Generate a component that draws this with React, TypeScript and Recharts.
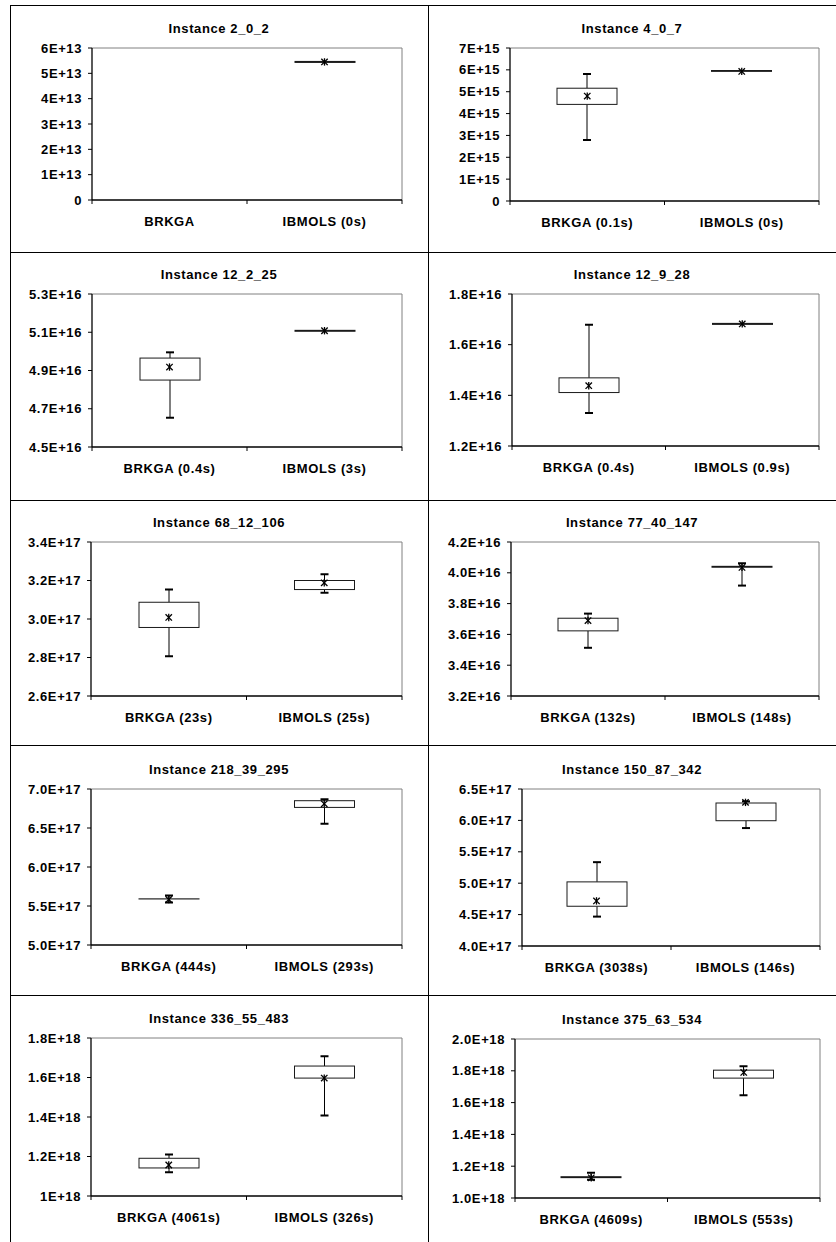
import React from 'react';
import { ComposedChart, Bar, Scatter, XAxis, YAxis, CartesianGrid } from 'recharts';

const titles = [
    'Instance 2_0_2', 'Instance 4_0_7', 'Instance 12_2_25', 'Instance 12_9_28', 'Instance 68_12_106',
    'Instance 77_40_147', 'Instance 218_39_295', 'Instance 150_87_342', 'Instance 336_55_483', 'Instance 375_63_534',
];

const brkgaLabels = ['BRKGA', 'BRKGA (0.1s)', 'BRKGA (0.4s)', 'BRKGA (0.4s)', 'BRKGA (23s)', 'BRKGA (132s)', 'BRKGA (444s)', 'BRKGA (3038s)', 'BRKGA (4061s)', 'BRKGA (4609s)'];
const ibmolsLabels = ['IBMOLS (0s)', 'IBMOLS (0s)', 'IBMOLS (3s)', 'IBMOLS (0.9s)', 'IBMOLS (25s)', 'IBMOLS (148s)', 'IBMOLS (293s)', 'IBMOLS (146s)', 'IBMOLS (326s)', 'IBMOLS (553s)'];

// y tick labels as printed (values are parsed from them)
const yTickLabels = [
    ['0', '1E+13', '2E+13', '3E+13', '4E+13', '5E+13', '6E+13'],
    ['0', '1E+15', '2E+15', '3E+15', '4E+15', '5E+15', '6E+15', '7E+15'],
    ['4.5E+16', '4.7E+16', '4.9E+16', '5.1E+16', '5.3E+16'],
    ['1.2E+16', '1.4E+16', '1.6E+16', '1.8E+16'],
    ['2.6E+17', '2.8E+17', '3.0E+17', '3.2E+17', '3.4E+17'],
    ['3.2E+16', '3.4E+16', '3.6E+16', '3.8E+16', '4.0E+16', '4.2E+16'],
    ['5.0E+17', '5.5E+17', '6.0E+17', '6.5E+17', '7.0E+17'],
    ['4.0E+17', '4.5E+17', '5.0E+17', '5.5E+17', '6.0E+17', '6.5E+17'],
    ['1E+18', '1.2E+18', '1.4E+18', '1.6E+18', '1.8E+18'],
    ['1.0E+18', '1.2E+18', '1.4E+18', '1.6E+18', '1.8E+18', '2.0E+18'],
];

// BRKGA boxes (first instance has no BRKGA result)
const brkgaMin = [null, 2.79e15, 4.653e16, 1.33e16, 2.807e17, 3.513e16, 5.545e17, 4.468e17, 1.12e18, 1.114e18];
const brkgaQ1 = [null, 4.42e15, 4.85e16, 1.411e16, 2.956e17, 3.623e16, 5.59e17, 4.633e17, 1.142e18, 1.128e18];
const brkgaQ3 = [null, 5.16e15, 4.965e16, 1.469e16, 3.087e17, 3.705e16, 5.592e17, 5.021e17, 1.191e18, 1.134e18];
const brkgaMax = [null, 5.81e15, 4.995e16, 1.679e16, 3.153e17, 3.735e16, 5.635e17, 5.335e17, 1.21e18, 1.159e18];
const brkgaMark = [null, 4.8e15, 4.918e16, 1.438e16, 3.008e17, 3.69e16, 5.583e17, 4.718e17, 1.157e18, 1.127e18];

// IBMOLS boxes
const ibmolsMin = [5.43e13, 5.93e15, 5.105e16, 1.68e16, 3.137e17, 3.917e16, 6.555e17, 5.878e17, 1.408e18, 1.647e18];
const ibmolsQ1 = [5.43e13, 5.93e15, 5.105e16, 1.68e16, 3.153e17, 4.036e16, 6.764e17, 5.995e17, 1.597e18, 1.754e18];
const ibmolsQ3 = [5.47e13, 5.97e15, 5.11e16, 1.684e16, 3.2e17, 4.042e16, 6.85e17, 6.277e17, 1.658e18, 1.804e18];
const ibmolsMax = [5.47e13, 5.97e15, 5.11e16, 1.684e16, 3.232e17, 4.062e16, 6.867e17, 6.303e17, 1.707e18, 1.829e18];
const ibmolsMark = [5.45e13, 5.93e15, 5.108e16, 1.682e16, 3.188e17, 4.035e16, 6.81e17, 6.287e17, 1.597e18, 1.79e18];

// layout: cells of the 2x5 grid and plot area inside each cell
const cellX = [10, 428];
const cellY = [5, 252, 500, 745, 995];
const cellW = [418, 408];
const plotGeom = [
    { l: 82, r: 392, t: 43, h: 152 }, { l: 82, r: 391, t: 43, h: 153 },
    { l: 82, r: 392, t: 42, h: 153 }, { l: 84, r: 391, t: 42, h: 152 },
    { l: 81, r: 392, t: 42, h: 154 }, { l: 83, r: 391, t: 42, h: 154 },
    { l: 81, r: 392, t: 44, h: 156 }, { l: 94, r: 392, t: 44, h: 157 },
    { l: 81, r: 392, t: 43, h: 158 }, { l: 87, r: 392, t: 44, h: 159 },
];

const FONT = '"Liberation Sans", Arial, sans-serif';
const FONT_SIZE = 13;
const LETTER_SP = 0.6;

const BoxShape = (props: any) => {
    const { x, y, width, height, payload } = props;
    if (!payload || payload.range == null || !isFinite(y)) return <g />;
    const [lo, hi] = payload.range;
    const toPx = (v: number) => (hi === lo ? y : y + ((hi - v) / (hi - lo)) * height);
    const cx = x + width / 2;
    const yMax = toPx(hi);
    const yMin = toPx(lo);
    const yQ3 = toPx(payload.q3);
    const yQ1 = toPx(payload.q1);
    return (
        <g>
            {hi > payload.q3 && <line x1={cx} x2={cx} y1={yMax} y2={yQ3} stroke="#000" />}
            {lo < payload.q1 && <line x1={cx} x2={cx} y1={yQ1} y2={yMin} stroke="#000" />}
            {hi > payload.q3 && <line x1={cx - 4} x2={cx + 4} y1={yMax} y2={yMax} stroke="#000" strokeWidth={2} />}
            {lo < payload.q1 && <line x1={cx - 4} x2={cx + 4} y1={yMin} y2={yMin} stroke="#000" strokeWidth={2} />}
            <rect x={x} y={yQ3} width={width} height={Math.max(yQ1 - yQ3, 0)} fill="#fff" stroke="#1a1a1a" strokeWidth={1} />
        </g>
    );
};

const StarMark = (props: any) => {
    const { cx, cy, payload } = props;
    if (!payload || payload.mark == null || !isFinite(cy)) return <g />;
    const s = 3.2;
    return (
        <g stroke="#000" strokeWidth={1.3}>
            <line x1={cx - s} y1={cy - s} x2={cx + s} y2={cy + s} />
            <line x1={cx - s} y1={cy + s} x2={cx + s} y2={cy - s} />
            <line x1={cx} y1={cy - s - 0.5} x2={cx} y2={cy + s + 0.5} />
        </g>
    );
};

const makeXTick = (band: number) => (props: any) => {
    const { x, y, payload, index } = props;
    return (
        <g>
            <line x1={x - band / 2} x2={x - band / 2} y1={y} y2={y + 4} stroke="#000" />
            {index === 1 && <line x1={x + band / 2} x2={x + band / 2} y1={y} y2={y + 4} stroke="#000" />}
            <text x={x} y={y + 21} dy="0.35em" textAnchor="middle" fill="#000" fontSize={FONT_SIZE} fontWeight="bold" fontFamily={FONT} letterSpacing={LETTER_SP}>
                {payload.value}
            </text>
        </g>
    );
};

const Panel: React.FC<{ i: number }> = ({ i }) => {
    const col = i % 2;
    const row = Math.floor(i / 2);
    const g = plotGeom[i];
    const w = cellW[col];
    const labels = yTickLabels[i];
    const ticks = labels.map(Number);
    const domain = [ticks[0], ticks[ticks.length - 1]];
    const band = (g.r - g.l) / 2;

    const data = [
        {
            name: brkgaLabels[i],
            range: brkgaMin[i] == null ? null : [brkgaMin[i], brkgaMax[i]],
            q1: brkgaQ1[i], q3: brkgaQ3[i], mark: brkgaMark[i],
        },
        {
            name: ibmolsLabels[i],
            range: [ibmolsMin[i], ibmolsMax[i]],
            q1: ibmolsQ1[i], q3: ibmolsQ3[i], mark: ibmolsMark[i],
        },
    ];

    return (
        <div style={{ position: 'absolute', left: cellX[col], top: cellY[row], width: w }}>
            <div style={{ position: 'absolute', left: 0, top: g.t - 27, width: w, textAlign: 'center', fontSize: FONT_SIZE, letterSpacing: LETTER_SP, lineHeight: '16px', fontWeight: 'bold', fontFamily: FONT }}>
                {titles[i]}
            </div>
            <ComposedChart width={w} height={g.t + g.h + 40} data={data} margin={{ top: g.t, right: w - g.r, left: 0, bottom: 0 }}>
                {/* gray frame on top and right of the plot area */}
                <CartesianGrid
                    stroke="#808080"
                    horizontalCoordinatesGenerator={({ offset }: any) => [offset.top]}
                    verticalCoordinatesGenerator={({ offset }: any) => [offset.left + offset.width]}
                />
                <XAxis dataKey="name" height={40} axisLine={{ stroke: '#000', strokeWidth: 1.3 }} tickLine={false} tickSize={0} tickMargin={0} interval={0} tick={makeXTick(band)} />
                <YAxis
                    domain={domain}
                    ticks={ticks}
                    interval={0}
                    width={g.l}
                    allowDataOverflow
                    tickFormatter={(v: number, idx: number) => labels[idx] ?? String(v)}
                    axisLine={{ stroke: '#000', strokeWidth: 1.3 }}
                    tickLine={{ stroke: '#000' }}
                    tickSize={4}
                    tickMargin={6}
                    tick={{ fill: '#000', fontSize: FONT_SIZE, fontWeight: 'bold', fontFamily: FONT, letterSpacing: LETTER_SP }}
                />
                <Bar dataKey="range" barSize={60} shape={BoxShape} isAnimationActive={false} />
                <Scatter dataKey="mark" shape={StarMark} isAnimationActive={false} />
            </ComposedChart>
        </div>
    );
};

const App: React.FC = () => {
    return (
        <div style={{ position: 'absolute', left: 0, top: 0, width: 836, height: 1242, background: '#fff', overflow: 'hidden' }}>
            {/* grid frame */}
            <div style={{ position: 'absolute', left: 10, top: 5, width: 826, height: 1, background: '#000' }} />
            {cellY.slice(1).map(y => (
                <div key={y} style={{ position: 'absolute', left: 10, top: y, width: 826, height: 1, background: '#000' }} />
            ))}
            <div style={{ position: 'absolute', left: 10, top: 5, width: 1, height: 1237, background: '#000' }} />
            <div style={{ position: 'absolute', left: 428, top: 5, width: 1, height: 1237, background: '#000' }} />
            {titles.map((_, i) => (
                <Panel key={i} i={i} />
            ))}
        </div>
    );
};

export default App;
